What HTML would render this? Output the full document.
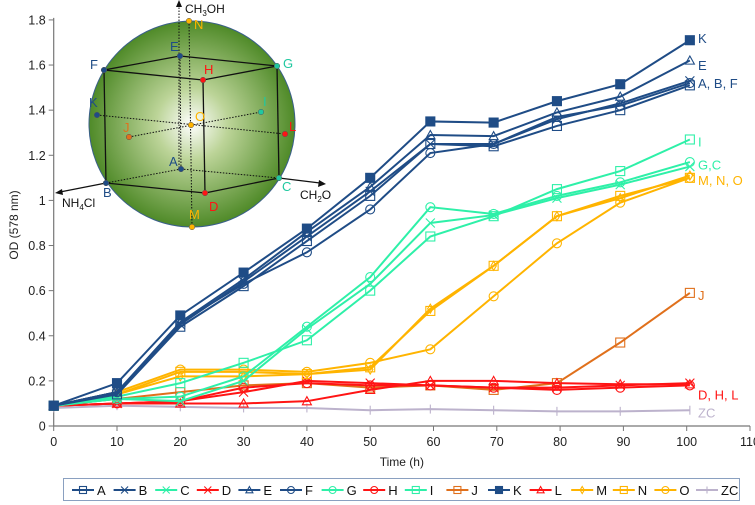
<!DOCTYPE html>
<html><head><meta charset="utf-8"><style>
body{margin:0;background:#fff;}
svg{display:block;font-family:"Liberation Sans",sans-serif;}
</style></head><body>
<svg id="chart" width="755" height="505" viewBox="0 0 755 505">
<defs>
<radialGradient id="sg" cx="0.5" cy="0.5" r="0.5">
<stop offset="0" stop-color="#ffffff"/><stop offset="0.35" stop-color="#bcd498"/><stop offset="1" stop-color="#4f8a28"/>
</radialGradient>
</defs>
<g id="axes"></g>
<g id="series"></g>
<g id="inset"></g>
<g id="legend"></g>
</svg>
<script>
const times=[0,10,20,30,40,50,59.5,69.5,79.5,89.5,100.5];
const seriesNames=["A","B","C","D","E","F","G","H","I","J","K","L","M","N","O","ZC"];
const vA=[0.09,0.14,0.44,0.62,0.82,1.02,1.25,1.24,1.33,1.40,1.51];
const vB=[0.09,0.15,0.45,0.64,0.84,1.04,1.25,1.25,1.36,1.43,1.53];
const vC=[0.09,0.12,0.11,0.20,0.43,0.63,0.90,0.935,1.01,1.07,1.15];
const vD=[0.09,0.10,0.11,0.15,0.20,0.19,0.18,0.17,0.17,0.18,0.19];
const vE=[0.09,0.15,0.46,0.65,0.86,1.06,1.29,1.285,1.39,1.46,1.62];
const vF=[0.09,0.15,0.46,0.63,0.77,0.96,1.21,1.25,1.37,1.42,1.52];
const vG=[0.09,0.12,0.13,0.22,0.44,0.66,0.97,0.94,1.02,1.08,1.17];
const vH=[0.09,0.10,0.11,0.17,0.19,0.18,0.18,0.17,0.16,0.17,0.18];
const vI=[0.09,0.13,0.19,0.28,0.38,0.60,0.84,0.93,1.05,1.13,1.27];
const vJ=[0.09,0.12,0.15,0.18,0.19,0.17,0.18,0.16,0.19,0.37,0.59];
const vK=[0.09,0.19,0.49,0.68,0.875,1.10,1.35,1.345,1.44,1.515,1.71];
const vL=[0.09,0.10,0.10,0.10,0.11,0.16,0.20,0.20,0.19,0.185,0.185];
const vM=[0.09,0.14,0.22,0.22,0.23,0.25,0.52,0.71,0.93,1.01,1.11];
const vN=[0.09,0.14,0.24,0.24,0.23,0.26,0.51,0.71,0.93,1.02,1.10];
const vO=[0.09,0.15,0.25,0.25,0.24,0.28,0.34,0.575,0.81,0.99,1.10];
const vZC=[0.08,0.09,0.085,0.08,0.08,0.07,0.075,0.07,0.065,0.065,0.07];
const xTicks=[0,10,20,30,40,50,60,70,80,90,100,110];
const yTicks=[0,0.2,0.4,0.6,0.8,1,1.2,1.4,1.6,1.8];
const endLabels=["K","E","A, B, F","I","G,C","M, N, O","J","D, H, L","ZC"];
const endLabelVals=[1.72,1.6,1.52,1.26,1.16,1.09,0.58,0.14,0.06];

const NS="http://www.w3.org/2000/svg";
const X=v=>53.7+v*6.33, Y=v=>426-v*225.6;
function mk(tag,at,parent){const e=document.createElementNS(NS,tag);for(const k in at)e.setAttribute(k,at[k]);parent.appendChild(e);return e;}
const navy="#1f4c86",grn="#2ef0a8",red="#ff1414",org="#e0701c",yel="#ffb400",zc="#bcb2cc";
const styles={A:[navy,"sq"],B:[navy,"x"],C:[grn,"x"],D:[red,"x"],E:[navy,"tri"],F:[navy,"ci"],G:[grn,"ci"],H:[red,"ci"],I:[grn,"sq"],J:[org,"sq"],K:[navy,"fsq"],L:[red,"tri"],M:[yel,"dia"],N:[yel,"sq"],O:[yel,"ci"],ZC:[zc,"plus"]};
const vals={A:vA,B:vB,C:vC,D:vD,E:vE,F:vF,G:vG,H:vH,I:vI,J:vJ,K:vK,L:vL,M:vM,N:vN,O:vO,ZC:vZC};
function marker(p,type,x,y,c,s){s=s||4.5;
 const a={fill:"none",stroke:c,"stroke-width":1.1};
 if(type==="sq"||type==="fsq")return mk("rect",{...a,x:x-s,y:y-s,width:2*s,height:2*s,fill:type==="fsq"?c:"none"},p);
 if(type==="ci")return mk("circle",{...a,cx:x,cy:y,r:s},p);
 if(type==="tri")return mk("path",{...a,d:`M${x},${y-s}L${x+s},${y+s*0.8}L${x-s},${y+s*0.8}Z`},p);
 if(type==="dia")return mk("path",{...a,d:`M${x},${y-s}L${x+s*0.6},${y}L${x},${y+s}L${x-s*0.6},${y}Z`},p);
 if(type==="x")return mk("path",{...a,d:`M${x-s},${y-s}L${x+s},${y+s}M${x+s},${y-s}L${x-s},${y+s}`},p);
 if(type==="plus")return mk("path",{...a,d:`M${x},${y-s}L${x},${y+s}`},p);
}
const ax=document.getElementById("axes");
const xa=mk("line",{x1:X(0),y1:426,x2:X(110),y2:426,stroke:"#777","stroke-width":1.2},ax);


const ya=mk("line",{x1:X(0),y1:426,x2:X(0),y2:Y(1.8)-2,stroke:"#777","stroke-width":1.2},ax);


xTicks.forEach(t=>{mk("line",{x1:X(t),y1:426,x2:X(t),y2:431,stroke:"#777"},ax);
 const tx=mk("text",{x:X(t),y:446,"text-anchor":"middle","font-size":12.5,fill:"#222"},ax);tx.textContent=t;
 
 });
yTicks.forEach(t=>{mk("line",{x1:X(0)-5,y1:Y(t),x2:X(0),y2:Y(t),stroke:"#777"},ax);
 const tx=mk("text",{x:X(0)-8,y:Y(t)+4.5,"text-anchor":"end","font-size":12.5,fill:"#222"},ax);tx.textContent=String(t);
 
 });
const xt=mk("text",{x:X(55),y:466,"text-anchor":"middle","font-size":12,fill:"#222"},ax);xt.textContent="Time (h)";


const yt=mk("text",{x:0,y:0,transform:"translate(18,225) rotate(-90)","text-anchor":"middle","font-size":12,fill:"#222"},ax);yt.textContent="OD (578 nm)";


const sg=document.getElementById("series");
["ZC","J","D","H","L","M","N","O","C","G","I","A","B","F","E","K"].forEach(n=>{
 const [c,t]=styles[n];const g=mk("g",{},sg);
 
 
 mk("polyline",{points:vals[n].map((v,i)=>X(times[i])+","+Y(v)).join(" "),fill:"none",stroke:c,"stroke-width":2},g);
 vals[n].forEach((v,i)=>marker(g,t,X(times[i]),Y(v),c));
});
const elc=[navy,navy,navy,grn,grn,yel,org,red,zc];
endLabels.forEach((l,i)=>{const tx=mk("text",{x:698,y:Y(endLabelVals[i])+5,"font-size":13,fill:elc[i]},sg);tx.textContent=l;
 
 });
const ins=document.getElementById("inset");
mk("circle",{cx:192,cy:124,r:103,fill:"url(#sg)",stroke:"#3a5f8a","stroke-width":1},ins);
const P={N:[189,21],E:[180,56],F:[104,70],G:[277,66],H:[203,80],K:[97,115],J:[129,137],O:[191,125],I:[261,112],L:[285,134],A:[181,169],B:[106,183],C:[279,178],D:[205,193],M:[192,227]};
const ln=(a,b,d)=>mk("line",{x1:P[a][0],y1:P[a][1],x2:P[b][0],y2:P[b][1],stroke:"#111","stroke-width":d?1:1.3,"stroke-dasharray":d?"1.5,1.5":"none"},ins);
[["F","E"],["E","G"],["F","H"],["H","G"],["F","B"],["H","D"],["G","C"],["B","D"],["D","C"]].forEach(e=>ln(e[0],e[1]));
[["B","A"],["A","C"],["A","E"],["K","L"],["J","I"],["N","M"]].forEach(e=>ln(e[0],e[1],1));
mk("line",{x1:179,y1:168,x2:179,y2:5,stroke:"#111","stroke-width":1,"stroke-dasharray":"1.5,1.5"},ins);
mk("path",{d:"M179,0L176,7L182,7Z",fill:"#111"},ins);
mk("line",{x1:106,y1:183,x2:60,y2:192,stroke:"#111","stroke-width":1.2},ins);
mk("path",{d:"M55,193L62,189L63,195Z",fill:"#111"},ins);
mk("line",{x1:279,y1:178,x2:320,y2:183,stroke:"#111","stroke-width":1.2},ins);
mk("path",{d:"M326,184L319,180L318,187Z",fill:"#111"},ins);
const pc={N:yel,E:navy,F:navy,G:"#20c8a0",H:red,K:navy,J:org,O:yel,I:"#20c8a0",L:red,A:navy,B:navy,C:"#20c8a0",D:red,M:yel};
const lo={N:[5,8],E:[-10,-5],F:[-14,-1],G:[6,2],H:[1,-6],K:[-8,-8],J:[-6,-5],O:[4,-4],I:[2,-6],L:[4,-3],A:[-12,-3],B:[-3,14],C:[3,13],D:[4,18],M:[-3,-8]};
for(const k in P){mk("circle",{cx:P[k][0],cy:P[k][1],r:2.8,fill:pc[k],stroke:"#555","stroke-width":0.5},ins);
 const tx=mk("text",{x:P[k][0]+lo[k][0],y:P[k][1]+lo[k][1],"font-size":13,fill:pc[k]},ins);tx.textContent=k;
 
 }
const axl=[["CH",185,13,"3","OH"],["NH",62,207,"4","Cl"],["CH",300,199,"2","O"]];
axl.forEach(a=>{const tx=mk("text",{x:a[1],y:a[2],"font-size":12,fill:"#111"},ins);
 tx.innerHTML=a[0]+'<tspan font-size="8" dy="3">'+a[3]+'</tspan><tspan dy="-3">'+a[4]+'</tspan>';
 
 });
const lg=document.getElementById("legend");
const box=mk("rect",{x:63.5,y:478.5,width:676,height:22,fill:"#fff",stroke:"#8aa0c0","stroke-width":1},lg);


seriesNames.forEach((n,i)=>{const x0=72+i*41.6;const [c,t]=styles[n];const g=mk("g",{},lg);
 
 
 mk("line",{x1:x0,y1:490,x2:x0+22,y2:490,stroke:c,"stroke-width":2},g);
 marker(g,t,x0+11,490,c,3.5);
 const tx=mk("text",{x:x0+25,y:495,"font-size":13,fill:"#111"},g);tx.textContent=n;});
</script>
</body></html>
